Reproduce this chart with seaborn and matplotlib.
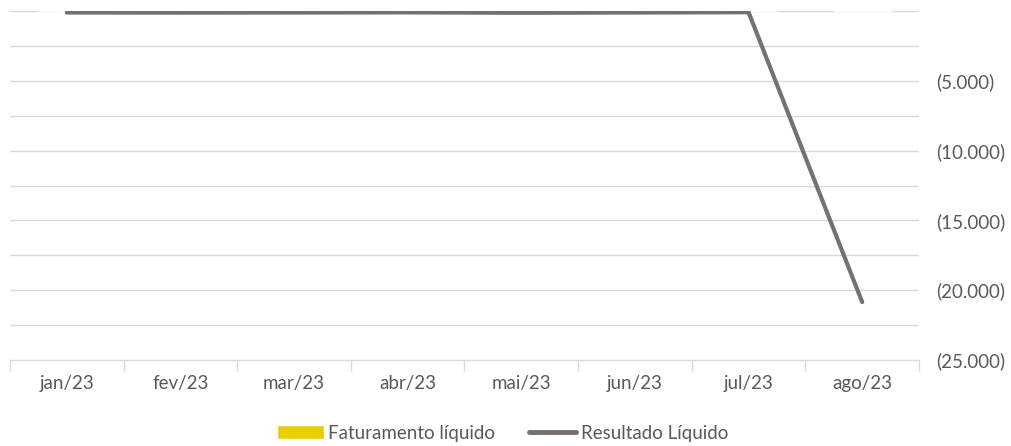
import numpy as np
import pandas as pd
import seaborn as sns
import matplotlib.pyplot as plt
from matplotlib.ticker import FuncFormatter, MultipleLocator, FixedLocator
from matplotlib.patches import Patch
from matplotlib.lines import Line2D

# Data
months = ['jan/23', 'fev/23', 'mar/23', 'abr/23', 'mai/23', 'jun/23', 'jul/23', 'ago/23']
faturamento = [0, 0, 0, 0, 0, 0, 0, 0]
resultado = [-110, -120, -110, -100, -130, -110, -90, -20850]

bar_color = '#E8CF00'
line_color = '#767171'
grid_color = '#D9D9D9'
text_color = '#595959'

sns.set_style('white')
plt.rcParams['font.family'] = ['Lato', 'DejaVu Sans']

df = pd.DataFrame({'mes': months, 'faturamento': faturamento, 'resultado': resultado})

fig = plt.figure(figsize=(10.11, 4.46), dpi=100)
ax = fig.add_axes([10 / 1011, 1 - 360 / 446, 909 / 1011, 349 / 446])

sns.barplot(data=df, x='mes', y='faturamento', color=bar_color, ax=ax, width=0.5)
sns.lineplot(x=np.arange(len(months)), y=df['resultado'], color=line_color,
             linewidth=3, ax=ax, solid_capstyle='round', zorder=3)

ax.set_xlim(-0.5, len(months) - 0.5)
ax.set_ylim(-25000, 0)

# y axis on the right, gridlines every 2.500, labels every 5.000
ax.yaxis.tick_right()
ax.yaxis.set_major_locator(MultipleLocator(2500))


def fmt(v, pos):
    if v == 0 or int(round(v)) % 5000 != 0:
        return ''
    return '({:,.0f})'.format(abs(v)).replace(',', '.')


ax.yaxis.set_major_formatter(FuncFormatter(fmt))
ax.grid(axis='y', color=grid_color, linewidth=1)
ax.set_axisbelow(True)
ax.tick_params(axis='y', length=0, pad=12, labelsize=13.5, labelcolor=text_color)

# category boundaries as tick marks on the x axis
ax.xaxis.set_minor_locator(FixedLocator(np.arange(-0.5, len(months), 1)))
ax.tick_params(axis='x', which='major', length=0, pad=11, labelsize=13.5, labelcolor=text_color)
ax.tick_params(axis='x', which='minor', length=8, width=1, color=grid_color, direction='out', bottom=True)

for side in ['top', 'left', 'right']:
    ax.spines[side].set_visible(False)
ax.spines['bottom'].set_color(grid_color)
ax.set_xlabel('')
ax.set_ylabel('')

handles = [Patch(facecolor=bar_color, label='Faturamento líquido'),
           Line2D([0], [0], color=line_color, linewidth=3.5, label='Resultado Líquido')]
fig.legend(handles=handles, loc='center', bbox_to_anchor=(0.497, 1 - 433 / 446), ncol=2,
           frameon=False, fontsize=13.5, labelcolor=text_color, handlelength=2.5,
           handletextpad=0.25, columnspacing=1.8)

fig.savefig('out.png', dpi=100)
